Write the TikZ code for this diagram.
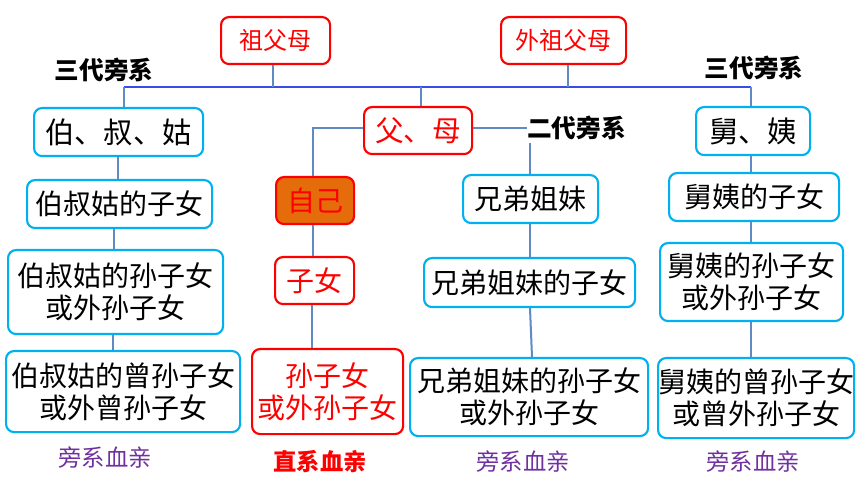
\documentclass[tikz,border=0pt]{standalone}
\usepackage{fontspec}
\setmainfont{Noto Sans CJK SC}
\definecolor{bred}{HTML}{FF0000}
\definecolor{bblue}{HTML}{00B0F0}
\definecolor{lnblue}{HTML}{5F8AC4}
\definecolor{hblue}{HTML}{3C4BE6}
\definecolor{purp}{HTML}{7030A0}
\definecolor{orng}{HTML}{E46C0A}
\tikzset{
  redbox/.style={draw=bred, line width=1.6pt, rounded corners=6pt, text=bred, align=center, inner sep=0pt},
  bluebox/.style={draw=bblue, line width=1.6pt, rounded corners=6pt, text=black, align=center, inner sep=0pt},
  conn/.style={draw=lnblue, line width=1.5pt},
  hconn/.style={draw=hblue, line width=1pt},
  lbl/.style={font=\fontsize{18.5}{20}\selectfont\bfseries, text=black, inner sep=0pt},
  kin/.style={font=\fontsize{17.5}{19}\selectfont, inner sep=0pt},
}
\begin{document}
\begin{tikzpicture}[x=0.75pt,y=-0.75pt]
\useasboundingbox (0,0) rectangle (860,484);
\fill[white] (0,0) rectangle (860,484);
% boxes
\node[redbox, minimum width=81.75pt, minimum height=35.25pt, anchor=north west, font=\fontsize{18}{20}\selectfont] (zfm) at (220,16) {祖父母};
\node[redbox, minimum width=93.75pt, minimum height=35.25pt, anchor=north west, font=\fontsize{18}{20}\selectfont] (wzfm) at (500,16) {外祖父母};
\node[redbox, minimum width=81pt, minimum height=35.25pt, anchor=north west, font=\fontsize{21.5}{23}\selectfont] (fm) at (363,106) {父、母};
\node[redbox, fill=orng, minimum width=58.5pt, minimum height=35.25pt, anchor=north west, font=\fontsize{21}{23}\selectfont] (zj) at (275,176) {自己};
\node[redbox, minimum width=59.25pt, minimum height=35.25pt, anchor=north west, font=\fontsize{21}{23}\selectfont] (zn) at (274,256) {子女};
\node[redbox, minimum width=113.25pt, minimum height=63.75pt, anchor=north west, font=\fontsize{21}{24}\selectfont] (szn) at (251,348) {孙子女\\或外孙子女};

\node[bluebox, minimum width=126.75pt, minimum height=36pt, anchor=north west, font=\fontsize{22}{23}\selectfont] (bsg) at (33,107) {伯、叔、姑};
\node[bluebox, minimum width=138.75pt, minimum height=36pt, anchor=north west, font=\fontsize{21}{23}\selectfont] (bsgz) at (26,179) {伯叔姑的子女};
\node[bluebox, minimum width=161.25pt, minimum height=63pt, anchor=north west, font=\fontsize{21}{24}\selectfont] (bsgs) at (7,249) {伯叔姑的孙子女\\或外孙子女};
\node[bluebox, minimum width=175.5pt, minimum height=60.75pt, anchor=north west, font=\fontsize{21}{24}\selectfont] (bsgc) at (5,350) {伯叔姑的曾孙子女\\或外曾孙子女};

\node[bluebox, minimum width=101.25pt, minimum height=36pt, anchor=north west, font=\fontsize{21}{23}\selectfont] (xd) at (462,174) {兄弟姐妹};
\node[bluebox, minimum width=158.25pt, minimum height=36.75pt, anchor=north west, font=\fontsize{21}{23}\selectfont] (xdz) at (423,257) {兄弟姐妹的子女};
\node[bluebox, minimum width=178.5pt, minimum height=58.5pt, anchor=north west, font=\fontsize{21}{24}\selectfont] (xds) at (409,357) {兄弟姐妹的孙子女\\或外孙子女};

\node[bluebox, minimum width=85.5pt, minimum height=36pt, anchor=north west, font=\fontsize{22}{23}\selectfont] (jy) at (695,106) {舅、姨};
\node[bluebox, minimum width=127.5pt, minimum height=36pt, anchor=north west, font=\fontsize{21}{23}\selectfont] (jyz) at (668,172) {舅姨的子女};
\node[bluebox, minimum width=137.25pt, minimum height=58.5pt, anchor=north west, font=\fontsize{21}{24}\selectfont] (jys) at (659,242) {舅姨的孙子女\\或外孙子女};
\node[bluebox, minimum width=142.5pt, minimum height=60pt, anchor=north west, font=\fontsize{21}{24}\selectfont] (jyc) at (657,357) {舅姨的曾孙子女\\或曾外孙子女};

% labels
\node[lbl] (l3a) at (104,70) {三代旁系};
\node[lbl] (l3b) at (754,68) {三代旁系};
\node[lbl, anchor=west] (l2) at (527,128) {二代旁系};
\node[kin, text=purp] (k1) at (105,458) {旁系血亲};
\node[kin, text=bred, font=\fontsize{17.5}{19}\selectfont\bfseries] (k2) at (320,462) {直系血亲};
\node[kin, text=purp] (k3) at (523,462) {旁系血亲};
\node[kin, text=purp] (k4) at (753,462) {旁系血亲};

% connectors
\coordinate (hl) at (124,87);
\coordinate (hr) at (751,87);
\draw[hconn] (hl) -- (hr);
\draw[conn] (zfm.south -| 273,0) -- (273,87);
\draw[conn] (wzfm.south -| 568,0) -- (568,87);
\draw[conn] (hl) -- (bsg.north -| hl);
\draw[conn] (hr) -- (jy.north -| hr);
\draw[conn] (421,87) -- (fm.north -| 421,0);
\draw[conn] (fm.west |- 0,128) -| (zj.north -| 313,0);
\draw[conn] (fm.east |- 0,128) -- (l2.west);
\draw[conn] (530,143) -- (xd.north -| 530,0);
\draw[conn] (bsg.south -| 118,0) -- (bsgz.north -| 118,0);
\draw[conn] (bsgz.south -| 114,0) -- (bsgs.north -| 114,0);
\draw[conn] (bsgs.south -| 113,0) -- (bsgc.north -| 113,0);
\draw[conn] (zj.south -| 313,0) -- (zn.north -| 313,0);
\draw[conn] (zn.south -| 312,0) -- (szn.north -| 312,0);
\draw[conn] (xd.south -| 530,0) -- (xdz.north -| 530,0);
\draw[conn] (xdz.south -| 530,0) -- (xds.north -| 532,0);
\draw[conn] (jy.south -| 751,0) -- (jyz.north -| 751,0);
\draw[conn] (jyz.south -| 751,0) -- (jys.north -| 751,0);
\draw[conn] (jys.south -| 751,0) -- (jyc.north -| 751,0);
\end{tikzpicture}
\end{document}
